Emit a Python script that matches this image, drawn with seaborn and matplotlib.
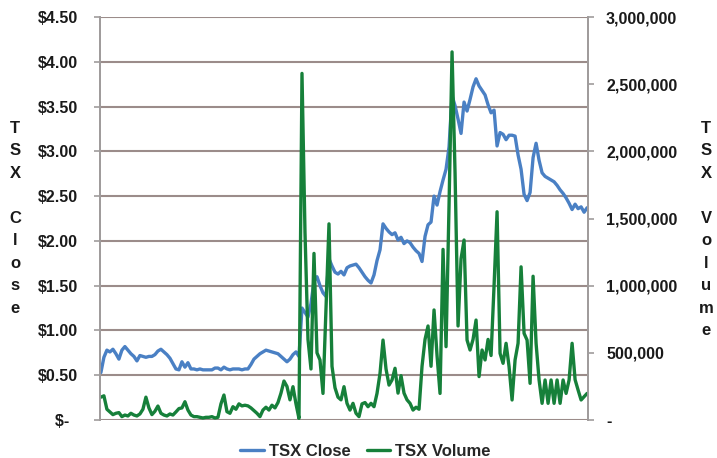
import numpy as np
import pandas as pd
import matplotlib
matplotlib.use("Agg")
import matplotlib.pyplot as plt
import seaborn as sns

# ---- data ----
close = [
    0.53, 0.70, 0.78, 0.76, 0.79, 0.74, 0.68, 0.78, 0.82, 0.78,
    0.74, 0.71, 0.66, 0.72, 0.71, 0.70, 0.71, 0.71, 0.73, 0.77,
    0.79, 0.76, 0.73, 0.69, 0.63, 0.57, 0.56, 0.65, 0.59, 0.64,
    0.57, 0.57, 0.56, 0.57, 0.56, 0.56, 0.56, 0.56, 0.58, 0.58,
    0.56, 0.59, 0.57, 0.56, 0.57, 0.57, 0.57, 0.56, 0.57, 0.57,
    0.62, 0.68, 0.71, 0.74, 0.76, 0.78, 0.77, 0.76, 0.75, 0.74,
    0.71, 0.68, 0.65, 0.68, 0.73, 0.76, 0.71, 1.25, 1.20, 1.15,
    1.30, 1.55, 1.60, 1.50, 1.42, 1.38, 1.80, 1.72, 1.65, 1.63,
    1.66, 1.62, 1.70, 1.72, 1.73, 1.74, 1.70, 1.65, 1.60, 1.56,
    1.53, 1.62, 1.78, 1.90, 2.19, 2.14, 2.10, 2.07, 2.09, 2.01,
    2.04, 1.97, 2.00, 1.98, 1.93, 1.89, 1.86, 1.77, 2.05, 2.18,
    2.21, 2.50, 2.40, 2.55, 2.68, 2.80, 3.05, 3.62, 3.51, 3.36,
    3.20, 3.55, 3.45, 3.58, 3.72, 3.81, 3.73, 3.68, 3.63, 3.52,
    3.43, 3.46, 3.06, 3.21, 3.19, 3.13, 3.18, 3.18, 3.17, 2.96,
    2.80, 2.52, 2.45, 2.54, 2.93, 3.09, 2.90, 2.76, 2.72, 2.70,
    2.68, 2.66, 2.62, 2.57, 2.53, 2.48, 2.42, 2.35, 2.41, 2.36,
    2.38, 2.32, 2.37,
]

volume = [
    170000, 180000, 80000, 60000, 40000, 50000, 55000, 25000, 37000, 30000,
    50000, 37000, 30000, 45000, 80000, 170000, 90000, 40000, 65000, 104000,
    50000, 37000, 30000, 45000, 37000, 60000, 85000, 90000, 136000, 74000,
    37000, 25000, 25000, 20000, 15000, 20000, 20000, 25000, 15000, 20000,
    120000, 186000, 62000, 50000, 99000, 80000, 120000, 105000, 110000, 105000,
    90000, 70000, 50000, 25000, 74000, 95000, 74000, 110000, 90000, 130000,
    200000, 290000, 250000, 150000, 248000, 120000, 12000, 2580000, 1400000, 600000,
    380000, 1240000, 500000, 447000, 198000, 819000, 1460000, 400000, 240000, 170000,
    150000, 248000, 124000, 74000, 124000, 50000, 25000, 120000, 130000, 99000,
    124000, 99000, 198000, 347000, 595000, 380000, 260000, 298000, 385000, 200000,
    330000, 200000, 150000, 124000, 74000, 95000, 80000, 400000, 600000, 700000,
    400000, 819000, 480000, 198000, 1270000, 546000, 1600000, 2740000, 1840000, 700000,
    1200000, 1340000, 595000, 521000, 600000, 744000, 323000, 521000, 447000, 600000,
    480000, 1000000, 1550000, 496000, 422000, 571000, 397000, 149000, 447000, 571000,
    1140000, 645000, 595000, 273000, 1070000, 571000, 298000, 124000, 298000, 124000,
    298000, 124000, 298000, 124000, 298000, 198000, 298000, 571000, 300000, 223000,
    149000, 174000, 198000,
]

price_ticks = [0, 0.5, 1.0, 1.5, 2.0, 2.5, 3.0, 3.5, 4.0, 4.5]
price_labels = ["$-  ", "$0.50", "$1.00", "$1.50", "$2.00", "$2.50",
                "$3.00", "$3.50", "$4.00", "$4.50"]
volume_ticks = [0, 500000, 1000000, 1500000, 2000000, 2500000, 3000000]
volume_labels = ["-", "500,000", "1,000,000", "1,500,000", "2,000,000",
                 "2,500,000", "3,000,000"]
series_names = ["TSX Close", "TSX Volume"]

# ---- style ----
sns.set_style("white")
plt.rcParams["font.family"] = ["Liberation Sans", "DejaVu Sans"]
plt.rcParams["font.weight"] = "bold"

blue = "#4a80c4"
green = "#16803a"
gridc = "#9b8c8a"
spinec = "#a09c9c"

df = pd.DataFrame({"day": np.arange(len(close)), "close": close, "volume": volume})

fig = plt.figure(figsize=(7.17, 4.58), dpi=100)
ax = fig.add_axes([100 / 717, 38 / 458, 488 / 717, 403 / 458])
ax2 = ax.twinx()

sns.lineplot(data=df, x="day", y="close", ax=ax, color=blue, linewidth=2.4,
             legend=False)
sns.lineplot(data=df, x="day", y="volume", ax=ax2, color=green, linewidth=2.4,
             legend=False)

n = len(close)
ax.set_xlim(-0.3, n - 0.7)
ax.set_ylim(0, 4.5)
ax2.set_ylim(0, 3000000)

ax.set_yticks(price_ticks)
ax.set_yticklabels(price_labels)
ax2.set_yticks(volume_ticks)
ax2.set_yticklabels(volume_labels, ha="left")
ax.set_xticks([])
ax2.set_xticks([])

ax.grid(axis="y", color=gridc, linewidth=1.5)
ax.grid(axis="x", visible=False)
ax.set_axisbelow(True)
ax2.grid(False)

for a in (ax, ax2):
    a.set_xlabel("")
    a.set_ylabel("")
    a.spines["top"].set_visible(False)
    a.spines["bottom"].set_visible(False)
    a.spines["left"].set_color(spinec)
    a.spines["right"].set_color(spinec)
    a.spines["left"].set_linewidth(1.3)
    a.spines["right"].set_linewidth(1.3)

ax.tick_params(axis="y", which="major", length=4, width=1.2, color=spinec,
               direction="out", pad=12, labelsize=11.5, labelcolor="#1a1a1a")
ax2.tick_params(axis="y", which="major", length=4, width=1.2, color=spinec,
                direction="out", pad=9, labelsize=11.5, labelcolor="#1a1a1a")
for lab in ax.get_yticklabels() + ax2.get_yticklabels():
    lab.set_fontweight("bold")

# stacked axis titles
fig.text(15 / 717, 1 - 121 / 458, "T\nS\nX\n\nC\nl\no\ns\ne", ha="center",
         va="top", fontsize=12, fontweight="bold", linespacing=1.62,
         color="#1a1a1a")
fig.text(706 / 717, 1 - 121 / 458, "T\nS\nX\n\nV\no\nl\nu\nm\ne", ha="center",
         va="top", fontsize=12, fontweight="bold", linespacing=1.62,
         color="#1a1a1a")

handles = [ax.get_lines()[0], ax2.get_lines()[0]]
fig.legend(handles, series_names, loc="lower center",
           bbox_to_anchor=(0.51, -0.035), ncol=2, frameon=False,
           prop={"size": 12, "weight": "bold"}, handlelength=1.4,
           columnspacing=1.0, handletextpad=0.3)

fig.savefig("out.png", dpi=100)
